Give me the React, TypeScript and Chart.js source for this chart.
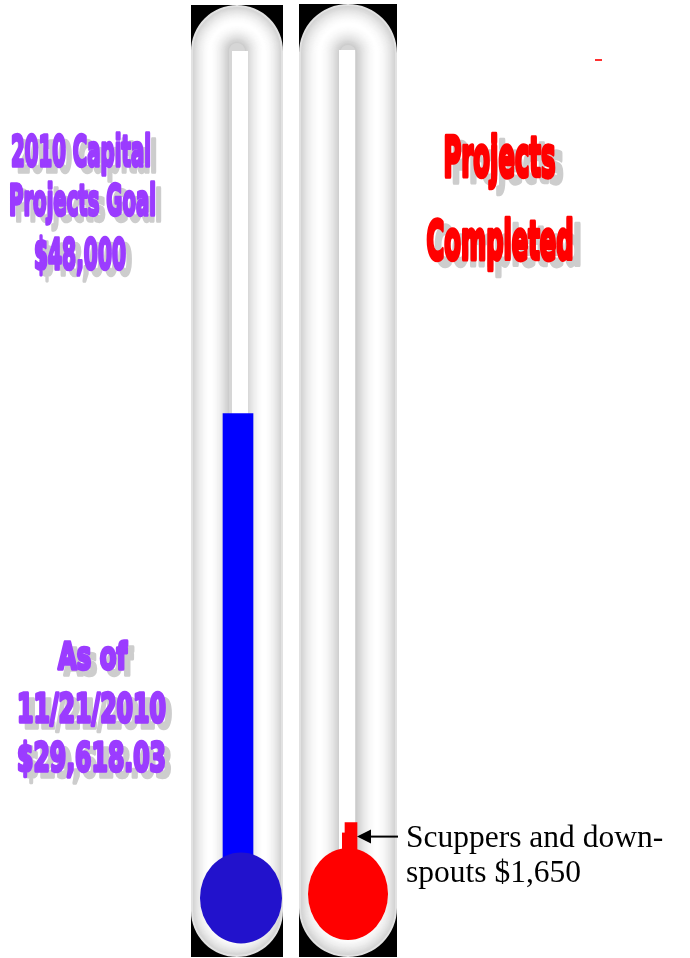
import React, { useEffect, useRef } from 'react';
import { Chart, registerables } from 'chart.js';

Chart.register(...registerables);

// ---------- data ----------
const categories = ['2010 Capital Projects Goal', 'Projects Completed'];
const raisedValues: (number | null)[] = [29618.03, null];
const completedValues: (number | null)[] = [null, 1650];
const scaleMin = -3300;
const scaleMax = 54400;
const leftTitleLines = ['2010 Capital', 'Projects Goal', '$48,000'];
const leftStatusLines = ['As of', '11/21/2010', '$29,618.03'];
const rightTitleLines = ['Projects', 'Completed'];
const annotationLines = ['Scuppers and down-', 'spouts $1,650'];

// ---------- decoration geometry ----------
const tubes = [
  { x0: 191, x1: 283, y0: 5, y1: 957, cx: 240 },
  { x0: 299, x1: 397, y0: 4, y1: 957, cx: 347 },
];
const bulbs = [
  { cx: 241, cy: 898, rx: 41, ry: 45.5, color: '#2212cc' },
  { cx: 348, cy: 894, rx: 40, ry: 46, color: '#ff0000' },
];

type TextSpec = { text: string; cx: number; base: number; w: number; size: number };

const leftTitleSpec: TextSpec[] = [
  { text: leftTitleLines[0], cx: 81, base: 166, w: 140, size: 42 },
  { text: leftTitleLines[1], cx: 82.5, base: 215, w: 147, size: 42 },
  { text: leftTitleLines[2], cx: 80, base: 269, w: 92, size: 42 },
];
const leftStatusSpec: TextSpec[] = [
  { text: leftStatusLines[0], cx: 92.5, base: 669, w: 69, size: 38 },
  { text: leftStatusLines[1], cx: 91.5, base: 722, w: 149, size: 39 },
  { text: leftStatusLines[2], cx: 91.5, base: 771, w: 149, size: 39 },
];
const rightTitleSpec: TextSpec[] = [
  { text: rightTitleLines[0], cx: 499.5, base: 176, w: 112, size: 55 },
  { text: rightTitleLines[1], cx: 500, base: 259, w: 147, size: 53 },
];

function stadiumSub(ctx: CanvasRenderingContext2D, x0: number, y0: number, x1: number, y1: number) {
  const r = (x1 - x0) / 2;
  const cx = (x0 + x1) / 2;
  ctx.moveTo(x0, y0 + r);
  ctx.arc(cx, y0 + r, r, Math.PI, 0, false);
  ctx.lineTo(x1, y1 - r);
  ctx.arc(cx, y1 - r, r, 0, Math.PI, false);
  ctx.closePath();
}

function drawTube(ctx: CanvasRenderingContext2D, t: { x0: number; x1: number; y0: number; y1: number; cx: number }) {
  const W = t.x1 - t.x0;
  const r = W / 2;
  const cx = (t.x0 + t.x1) / 2;
  ctx.save();
  ctx.beginPath();
  stadiumSub(ctx, t.x0, t.y0, t.x1, t.y1);
  ctx.fillStyle = '#d6d6d6';
  ctx.fill();
  const channel = 16;
  const wall = (W - channel) / 2;
  const N = 24;
  for (let i = 0; i < N; i++) {
    const frac = i / N;
    const lw = wall * (1 - frac);
    const v = Math.round(204 + 51 * Math.sin((frac * Math.PI) / 2));
    ctx.strokeStyle = `rgb(${v},${v},${v})`;
    ctx.lineWidth = lw;
    ctx.beginPath();
    stadiumSub(ctx, t.x0 + wall / 2, t.y0 + wall / 2, t.x1 - wall / 2, t.y1 - wall / 2);
    ctx.stroke();
  }
  // light rim on the outer edge
  ctx.strokeStyle = '#e2e2e2';
  ctx.lineWidth = 2;
  ctx.beginPath();
  stadiumSub(ctx, t.x0 + 1, t.y0 + 1, t.x1 - 1, t.y1 - 1);
  ctx.stroke();
  ctx.fillStyle = '#ffffff';
  ctx.fillRect(t.cx - channel / 2, t.y0 + 46, channel, t.y1 - t.y0 - 120);
  // black corners, each bounded by the capsule arc
  ctx.fillStyle = '#000000';
  const topC = t.y0 + r;
  const botC = t.y1 - r;
  ctx.beginPath();
  ctx.moveTo(t.x0, t.y0);
  ctx.lineTo(cx, t.y0);
  ctx.arc(cx, topC, r, -Math.PI / 2, Math.PI, true);
  ctx.closePath();
  ctx.fill();
  ctx.beginPath();
  ctx.moveTo(t.x1, t.y0);
  ctx.lineTo(t.x1, topC);
  ctx.arc(cx, topC, r, 0, -Math.PI / 2, true);
  ctx.closePath();
  ctx.fill();
  ctx.beginPath();
  ctx.moveTo(t.x0, t.y1);
  ctx.lineTo(t.x0, botC);
  ctx.arc(cx, botC, r, Math.PI, Math.PI / 2, true);
  ctx.closePath();
  ctx.fill();
  ctx.beginPath();
  ctx.moveTo(t.x1, t.y1);
  ctx.lineTo(cx, t.y1);
  ctx.arc(cx, botC, r, Math.PI / 2, 0, true);
  ctx.closePath();
  ctx.fill();
  ctx.restore();
}

function drawFitText(ctx: CanvasRenderingContext2D, s: TextSpec, color: string, lw: number, dx: number, dy: number) {
  ctx.save();
  ctx.font = `bold ${s.size}px "DejaVu Sans"`;
  ctx.textAlign = 'center';
  ctx.textBaseline = 'alphabetic';
  ctx.lineJoin = 'round';
  const w0 = ctx.measureText(s.text).width;
  const sx = s.w / w0;
  const paint = (x: number, y: number, c: string) => {
    ctx.save();
    ctx.translate(x, y);
    ctx.scale(sx, 1);
    ctx.fillStyle = c;
    ctx.strokeStyle = c;
    ctx.lineWidth = lw;
    ctx.fillText(s.text, 0, 0);
    ctx.strokeText(s.text, 0, 0);
    ctx.restore();
  };
  paint(s.cx + dx, s.base + dy, '#cdcdcd');
  paint(s.cx, s.base, color);
  ctx.restore();
}

const thermoPlugin = {
  id: 'thermo',
  beforeDatasetsDraw(chart: any) {
    const ctx: CanvasRenderingContext2D = chart.ctx;
    tubes.forEach((t) => drawTube(ctx, t));
  },
  afterDatasetsDraw(chart: any) {
    const ctx: CanvasRenderingContext2D = chart.ctx;
    ctx.save();
    bulbs.forEach((b, i) => {
      ctx.fillStyle = b.color;
      ctx.beginPath();
      ctx.ellipse(b.cx, b.cy, b.rx, b.ry, 0, 0, Math.PI * 2);
      ctx.fill();
      if (i === 1) {
        const meta = chart.getDatasetMeta(1);
        const bar = meta.data[1];
        if (bar) {
          ctx.fillRect(bar.x - 9, bar.y + 10, 15, b.cy - b.ry - bar.y - 6);
        }
      }
    });
    ctx.restore();
  },
  afterDraw(chart: any) {
    const ctx: CanvasRenderingContext2D = chart.ctx;
    leftTitleSpec.forEach((s) => drawFitText(ctx, s, '#9b3cff', 3.5, 6, 6));
    leftStatusSpec.forEach((s) => drawFitText(ctx, s, '#9b3cff', 3.5, 6, 6));
    rightTitleSpec.forEach((s) => drawFitText(ctx, s, '#ff0000', 4.5, 8, 6));

    const meta = chart.getDatasetMeta(1);
    const bar = meta.data[1];
    const tipX = bar ? bar.x + bar.width / 2 : 357;
    const ay = bar ? bar.y + 14 : 837;
    ctx.save();
    ctx.strokeStyle = '#000';
    ctx.fillStyle = '#000';
    ctx.lineWidth = 2;
    ctx.beginPath();
    ctx.moveTo(398, ay);
    ctx.lineTo(tipX + 10, ay);
    ctx.stroke();
    ctx.beginPath();
    ctx.moveTo(tipX, ay);
    ctx.lineTo(tipX + 14, ay - 7);
    ctx.lineTo(tipX + 14, ay + 7);
    ctx.closePath();
    ctx.fill();
    ctx.font = '31.5px "Liberation Serif"';
    ctx.textAlign = 'left';
    ctx.textBaseline = 'alphabetic';
    ctx.fillText(annotationLines[0], 406, 847);
    ctx.fillText(annotationLines[1], 406, 882);
    ctx.fillStyle = '#ff3030';
    ctx.fillRect(595, 59, 7, 2);
    ctx.restore();
  },
};

export default function App() {
  const ref = useRef<HTMLCanvasElement | null>(null);
  useEffect(() => {
    document.body.style.margin = '0';
    const canvas = ref.current;
    if (!canvas) return;
    const chart = new Chart(canvas, {
      type: 'bar',
      data: {
        labels: categories,
        datasets: [
          {
            label: 'Raised',
            data: raisedValues,
            backgroundColor: '#0000ff',
            barThickness: 30,
            grouped: false,
            base: scaleMin,
          } as any,
          {
            label: 'Completed',
            data: completedValues,
            backgroundColor: '#ff0000',
            barThickness: 12,
            grouped: false,
            base: scaleMin,
          } as any,
        ],
      },
      options: {
        animation: false,
        responsive: false,
        devicePixelRatio: 1,
        layout: { padding: { left: 181.5, right: 282.5, top: 51, bottom: 63 } },
        plugins: { legend: { display: false }, tooltip: { enabled: false }, title: { display: false } },
        scales: {
          x: { display: false, offset: true, grid: { display: false } },
          y: { display: false, min: scaleMin, max: scaleMax, grid: { display: false } },
        },
      },
      plugins: [thermoPlugin],
    });
    return () => chart.destroy();
  }, []);
  return (
    <div style={{ position: 'absolute', left: 0, top: 0, width: 690, height: 958, background: '#fff' }}>
      <canvas ref={ref} width={690} height={958} style={{ display: 'block', width: 690, height: 958 }} />
    </div>
  );
}
